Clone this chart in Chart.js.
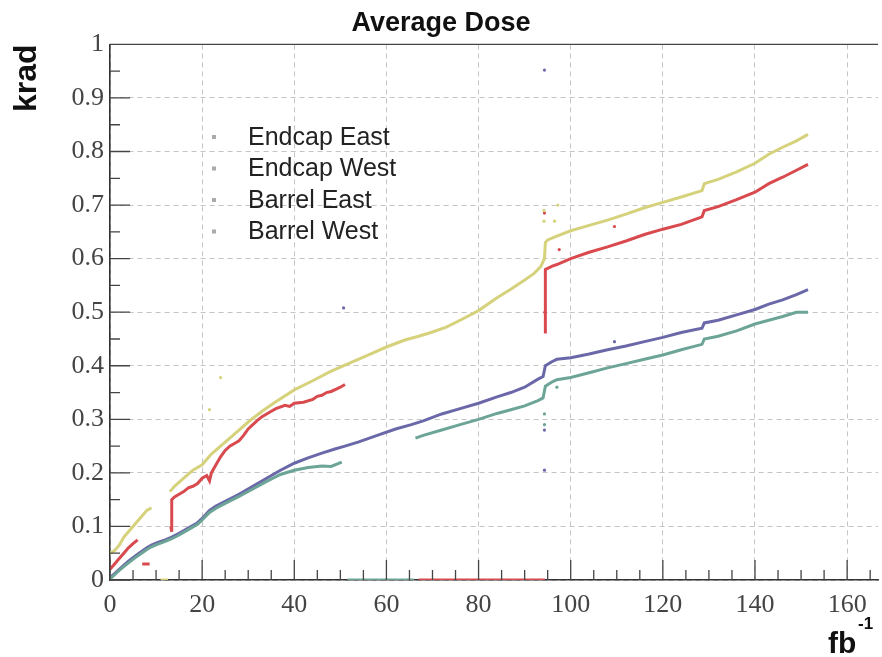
<!DOCTYPE html>
<html>
<head>
<meta charset="utf-8">
<script src="https://cdn.jsdelivr.net/npm/chart.js@4"></script>
<style>
html, body { margin: 0; padding: 0; background: #fff; }
</style>
</head>
<body>
<canvas id="doseChart" width="882" height="657"></canvas>
<script>
// =========================================
// DATA  (x = fb^-1, y = krad; null = gap)
// =========================================

const xTicks = [0, 20, 40, 60, 80, 100, 120, 140, 160];
const yTicks = [0, 0.1, 0.2, 0.3, 0.4, 0.5, 0.6, 0.7, 0.8, 0.9, 1];
const yTickLabels = ["0", "0.1", "0.2", "0.3", "0.4", "0.5", "0.6", "0.7", "0.8", "0.9", "1"];

const endcapEast = [
    [0,0.05],[1,0.055],[2,0.065],[3,0.08],[4,0.09],[5,0.1],[6,0.11],[7,0.12],[8,0.13],[9,0.135],
    [9,null],[11,0],[12.6,0],[12.6,null],
    [13,0.165],[14,0.175],[16,0.19],[18,0.205],[20,0.215],[22,0.235],[24,0.25],[26,0.265],[28,0.28],
    [30,0.295],[33,0.315],[36,0.333],[40,0.355],[44,0.372],[48,0.39],[52,0.405],[56,0.42],[60,0.435],
    [64,0.448],[67,0.455],[70,0.463],[73,0.472],[76,0.485],[80,0.503],[84,0.527],[87,0.543],[90,0.56],
    [92,0.572],[93.5,0.585],[94.3,0.6],[94.5,0.63],[95,0.635],[97,0.642],[100,0.652],[104,0.662],
    [108,0.672],[112,0.683],[116,0.695],[120,0.705],[124,0.715],[128.5,0.727],[129,0.74],[132,0.748],
    [136,0.762],[140,0.778],[143,0.795],[146,0.808],[149,0.82],[151.5,0.832]
];

const endcapWest = [
    [0,0.02],[1,0.03],[2,0.04],[3,0.05],[4,0.06],[5,0.068],[6,0.075],[6,null],
    [7,0.03],[8.6,0.03],[8.6,null],
    [13.2,0.1],[13.4,0.09],[13.4,0.15],[14,0.155],[15,0.16],[16,0.165],[17,0.172],[18,0.175],[19,0.18],
    [20,0.19],[21,0.195],[21.6,0.185],[22,0.2],[23,0.215],[24,0.23],[25,0.242],[26,0.25],[27,0.255],
    [28,0.26],[29,0.27],[30,0.282],[31,0.29],[32,0.298],[33,0.305],[34,0.31],[35,0.315],[36,0.32],
    [38,0.326],[39,0.324],[40,0.33],[42,0.332],[44,0.337],[45,0.343],[46,0.345],[47,0.35],[48,0.352],
    [49,0.356],[50,0.36],[51,0.365],[51,null],
    [67,0],[94.4,0],[94.4,null],
    [94.5,0.46],[94.5,0.58],[95,0.582],[96,0.586],[97,0.589],[100,0.6],[104,0.612],[108,0.622],
    [112,0.633],[116,0.645],[120,0.655],[124,0.664],[128.5,0.678],[129,0.69],[132,0.697],[136,0.71],
    [140,0.724],[143,0.74],[146,0.752],[149,0.765],[151.5,0.776]
];

const barrelEast = [
    [0,0.004],[2,0.02],[4,0.035],[6,0.048],[8,0.06],[9,0.065],[10.4,0.07],[12,0.075],[13.4,0.08],
    [15,0.087],[17,0.097],[19,0.107],[20,0.115],[21.6,0.13],[23,0.138],[25,0.147],[28,0.16],[31,0.175],
    [34,0.19],[37,0.205],[40,0.218],[43,0.228],[46,0.237],[49,0.245],[51,0.25],[54,0.258],[58,0.27],
    [62,0.282],[65.4,0.29],[68,0.297],[72,0.31],[76,0.32],[80,0.33],[84,0.342],[87,0.35],[90,0.36],
    [92.9,0.375],[94,0.38],[94.5,0.4],[96,0.408],[97,0.412],[100,0.415],[104,0.422],[108,0.43],
    [112,0.437],[116,0.445],[120,0.453],[124,0.462],[128.5,0.47],[129,0.48],[132,0.485],[136,0.495],
    [140,0.505],[143,0.515],[146,0.523],[149,0.533],[151.5,0.542]
];

const barrelWest = [
    [0,0.002],[2,0.018],[4,0.032],[6,0.045],[8,0.057],[9,0.062],[10.4,0.067],[12,0.072],[13.4,0.077],
    [15,0.084],[17,0.094],[19,0.104],[20,0.112],[21.6,0.126],[23,0.134],[25,0.143],[28,0.156],[31,0.17],
    [34,0.184],[37,0.197],[40,0.205],[43,0.21],[46,0.213],[48,0.212],[50.3,0.22],[50.3,null],
    [51.5,0],[66,0],[66,null],
    [66.3,0.265],[68,0.27],[72,0.28],[76,0.29],[80,0.3],[84,0.311],[87,0.318],[90,0.325],[92.9,0.335],
    [94,0.34],[94.5,0.362],[96,0.37],[97,0.374],[100,0.378],[104,0.387],[108,0.396],[112,0.404],
    [116,0.412],[120,0.42],[124,0.43],[128.5,0.44],[129,0.45],[132,0.455],[136,0.465],[140,0.478],
    [143,0.485],[146,0.492],[149,0.5],[151.5,0.5]
];

// stray single measurements
const strayYellow = [[94.2,0.69],[94.2,0.67],[97.2,0.70],[96.5,0.67],[24,0.378],[21.6,0.318]];
const strayRed = [[94.3,0.685],[109.5,0.66],[97.5,0.617],[94.4,0.5]];
const strayBlue = [[94.3,0.952],[109.5,0.445],[94.3,0.205],[94.3,0.28],[50.7,0.508]];
const strayGreen = [[94.3,0.29],[94.3,0.31],[97,0.36]];

const labels = ["Endcap East", "Endcap West", "Barrel East", "Barrel West"];
const colors = ["#d6d27c", "#d94a4f", "#6a68a8", "#6ca597"];

// =========================================
// HELPERS / PLUGINS
// =========================================

function pts(arr){
    return arr.map(p => ({x: p[0], y: p[1]}));
}

const serif = "'Liberation Serif', 'Times New Roman', serif";
const sans = "'Liberation Sans', Arial, Helvetica, sans-serif";

// inner tick marks + top frame, ROOT style
const frameTicks = {
    id: 'frameTicks',
    afterDatasetsDraw(chart){
        const {ctx, chartArea: a, scales: {x, y}} = chart;
        ctx.save();
        ctx.strokeStyle = '#444';
        ctx.lineWidth = 1.3;
        ctx.beginPath();
        for(let v = 0; v <= 165; v += 5){
            const px = x.getPixelForValue(v);
            const len = v % 20 === 0 ? 20 : 10;
            ctx.moveTo(px, a.bottom);
            ctx.lineTo(px, a.bottom - len);
        }
        for(let i = 0; i <= 20; i++){
            const py = y.getPixelForValue(i * 0.05);
            const len = i % 2 === 0 ? 20 : 10;
            ctx.moveTo(a.left, py);
            ctx.lineTo(a.left + len, py);
        }
        ctx.moveTo(a.left, a.top);
        ctx.lineTo(a.right, a.top);
        ctx.stroke();
        ctx.restore();
    }
};

// legend box inside the plot
const innerLegend = {
    id: 'innerLegend',
    afterDraw(chart){
        const ctx = chart.ctx;
        ctx.save();
        ctx.font = "25px " + sans;
        ctx.textBaseline = 'middle';
        labels.forEach((txt, i) => {
            const yy = 137 + i * 31.5;
            ctx.fillStyle = '#aaa';
            ctx.fillRect(212, yy - 2, 4, 4);
            ctx.fillStyle = '#222';
            ctx.fillText(txt, 248, yy + 1);
        });
        ctx.restore();
    }
};

// x axis title with superscript
const xTitle = {
    id: 'xTitle',
    afterDraw(chart){
        const ctx = chart.ctx;
        ctx.save();
        ctx.fillStyle = '#111';
        ctx.textBaseline = 'alphabetic';
        ctx.font = "bold 30px " + sans;
        ctx.fillText("fb", 828, 653);
        ctx.font = "bold 17px " + sans;
        ctx.fillText("-1", 858, 629);
        ctx.restore();
    }
};

// =========================================
// CHART
// =========================================

const lineSet = (data, i) => ({
    label: labels[i],
    data: pts(data),
    borderColor: colors[i],
    backgroundColor: colors[i],
    borderWidth: 3,
    pointRadius: 0,
    showLine: true,
    spanGaps: false,
    tension: 0
});

const straySet = (data, i) => ({
    label: labels[i] + ' stray',
    data: pts(data),
    borderColor: colors[i],
    backgroundColor: colors[i],
    pointRadius: 1.6,
    pointBorderWidth: 0,
    showLine: false
});

const ctx = document.getElementById('doseChart');

new Chart(ctx, {
    type: 'scatter',
    data: {
        datasets: [
            lineSet(barrelWest, 3),
            lineSet(barrelEast, 2),
            lineSet(endcapEast, 0),
            lineSet(endcapWest, 1),
            straySet(strayYellow, 0),
            straySet(strayRed, 1),
            straySet(strayBlue, 2),
            straySet(strayGreen, 3)
        ]
    },
    options: {
        responsive: false,
        animation: false,
        layout: { padding: { left: 0, right: 0, top: 0, bottom: 0 } },
        plugins: {
            legend: { display: false },
            tooltip: { enabled: false },
            title: {
                display: true,
                text: 'Average Dose',
                color: '#111',
                font: { family: sans, size: 27, weight: 'bold' },
                padding: { top: 7, bottom: 5 }
            }
        },
        scales: {
            x: {
                type: 'linear',
                min: 0,
                max: 166.7,
                afterBuildTicks: s => { s.ticks = xTicks.map(v => ({value: v})); },
                afterFit: s => { s.height = 77; },
                ticks: {
                    color: '#444',
                    padding: 10,
                    font: { family: serif, size: 26 },
                    maxRotation: 0
                },
                grid: {
                    color: '#c4c4c4',
                    lineWidth: 1,
                    drawTicks: false
                },
                border: { color: '#333', width: 1.6, dash: [5, 4] }
            },
            y: {
                type: 'linear',
                min: 0,
                max: 1,
                afterBuildTicks: s => { s.ticks = yTicks.map(v => ({value: v})); },
                afterFit: s => { s.width = 110; },
                ticks: {
                    color: '#444',
                    padding: 6,
                    font: { family: serif, size: 26 },
                    callback: (v, i) => yTickLabels[i]
                },
                grid: {
                    color: '#c4c4c4',
                    lineWidth: 1,
                    drawTicks: false
                },
                border: { color: '#333', width: 1.6, dash: [5, 4] },
                title: {
                    display: true,
                    text: 'krad',
                    align: 'end',
                    color: '#111',
                    font: { family: sans, size: 32, weight: 'bold' },
                    padding: { top: 8, bottom: 0 }
                }
            }
        }
    },
    plugins: [frameTicks, innerLegend, xTitle]
});
</script>
</body>
</html>
